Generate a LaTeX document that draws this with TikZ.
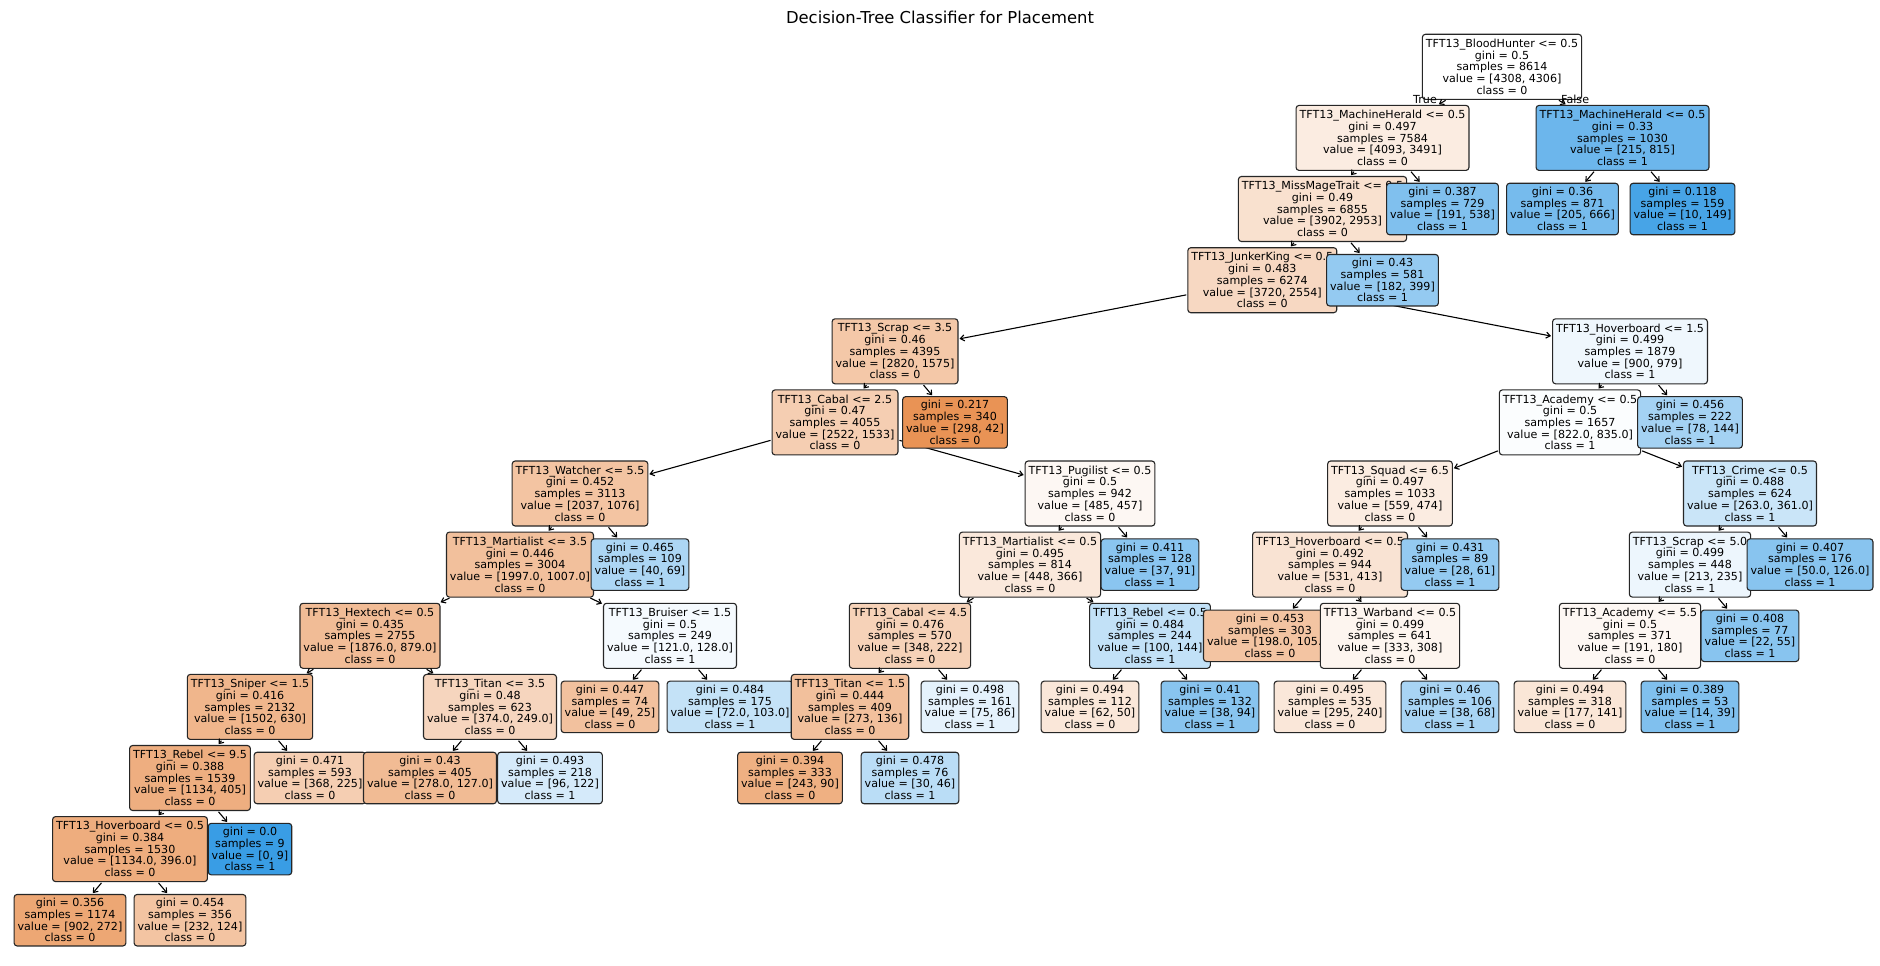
\documentclass[tikz,border=0pt]{standalone}
\usepackage{fontspec}
\setmainfont{DejaVu Sans}
\usetikzlibrary{arrows.meta}
\definecolor{corange}{RGB}{229,129,57}
\definecolor{cblue}{RGB}{57,157,229}
\tikzset{
  treebox/.style={draw=black!85, line width=1.1pt, rounded corners=3pt, align=center,
    inner xsep=3.5pt, inner ysep=0pt, font=\fontsize{11.1}{11.7}\selectfont},
  splitbox/.style={treebox, minimum height=65pt},
  leafbox/.style={treebox, minimum height=51.5pt},
  fo/.style={fill=corange!#1!white},
  fb/.style={fill=cblue!#1!white},
  treearrow/.style={-{Straight Barb[length=4pt,width=6pt]}, line width=1.1pt, shorten >=1pt, shorten <=1pt},
  edgelabel/.style={inner sep=0pt, font=\fontsize{11.1}{11.7}\selectfont},
}
\newcommand\treearc[2]{\draw[treearrow] (#1) -- (#2);}
\begin{document}
\begin{tikzpicture}[x=1pt,y=-1pt]
\path[fill=white] (0,0) rectangle (1880,966);
\useasboundingbox (0,0) rectangle (1880,966);

\node[anchor=base, inner sep=0pt, font=\fontsize{16.4}{18}\selectfont] (title) at (940,24) {Decision-Tree Classifier for Placement};

% preorder drawing: each arrow right after its child
\node[splitbox, fo=0] (n0) at (1502,66.8) {TFT13\_BloodHunter <= 0.5\\gini = 0.5\\samples = 8614\\value = [4308, 4306]\\class = 0};
\node[edgelabel, anchor=east] (ltrue) at (1437,99.5) {True};
\node[edgelabel, anchor=west] (lfalse) at (1561,99.5) {False};
\node[splitbox, fo=15] (n1) at (1382.5,137.9) {TFT13\_MachineHerald <= 0.5\\gini = 0.497\\samples = 7584\\value = [4093, 3491]\\class = 0};
\treearc{n0}{n1}
\node[splitbox, fo=24] (n3) at (1322.5,209.0) {TFT13\_MissMageTrait <= 0.5\\gini = 0.49\\samples = 6855\\value = [3902, 2953]\\class = 0};
\treearc{n1}{n3}
\node[splitbox, fo=31] (n7) at (1262.3,280.2) {TFT13\_JunkerKing <= 0.5\\gini = 0.483\\samples = 6274\\value = [3720, 2554]\\class = 0};
\treearc{n3}{n7}
\node[splitbox, fo=44] (n9) at (895,351.3) {TFT13\_Scrap <= 3.5\\gini = 0.46\\samples = 4395\\value = [2820, 1575]\\class = 0};
\treearc{n7}{n9}
\node[splitbox, fo=39] (n11) at (835,422.4) {TFT13\_Cabal <= 2.5\\gini = 0.47\\samples = 4055\\value = [2522, 1533]\\class = 0};
\treearc{n9}{n11}
\node[splitbox, fo=47] (n15) at (580,493.5) {TFT13\_Watcher <= 5.5\\gini = 0.452\\samples = 3113\\value = [2037, 1076]\\class = 0};
\treearc{n11}{n15}
\node[splitbox, fo=50] (n19) at (520,564.6) {TFT13\_Martialist <= 3.5\\gini = 0.446\\samples = 3004\\value = [1997.0, 1007.0]\\class = 0};
\treearc{n15}{n19}
\node[splitbox, fo=53] (n27) at (370,635.8) {TFT13\_Hextech <= 0.5\\gini = 0.435\\samples = 2755\\value = [1876.0, 879.0]\\class = 0};
\treearc{n19}{n27}
\node[splitbox, fo=58] (n35) at (250,706.9) {TFT13\_Sniper <= 1.5\\gini = 0.416\\samples = 2132\\value = [1502, 630]\\class = 0};
\treearc{n27}{n35}
\node[splitbox, fo=64] (n47) at (190,778.0) {TFT13\_Rebel <= 9.5\\gini = 0.388\\samples = 1539\\value = [1134, 405]\\class = 0};
\treearc{n35}{n47}
\node[splitbox, fo=65] (n53) at (130,849.1) {TFT13\_Hoverboard <= 0.5\\gini = 0.384\\samples = 1530\\value = [1134.0, 396.0]\\class = 0};
\treearc{n47}{n53}
\node[leafbox, fo=70] (n55) at (70,920.2) {gini = 0.356\\samples = 1174\\value = [902, 272]\\class = 0};
\treearc{n53}{n55}
\node[leafbox, fo=47] (n56) at (190,920.2) {gini = 0.454\\samples = 356\\value = [232, 124]\\class = 0};
\treearc{n53}{n56}
\node[leafbox, fb=100] (n54) at (250,849.1) {gini = 0.0\\samples = 9\\value = [0, 9]\\class = 1};
\treearc{n47}{n54}
\node[leafbox, fo=39] (n48) at (310,778.0) {gini = 0.471\\samples = 593\\value = [368, 225]\\class = 0};
\treearc{n35}{n48}
\node[splitbox, fo=33] (n36) at (490,706.9) {TFT13\_Titan <= 3.5\\gini = 0.48\\samples = 623\\value = [374.0, 249.0]\\class = 0};
\treearc{n27}{n36}
\node[leafbox, fo=54] (n49) at (430,778.0) {gini = 0.43\\samples = 405\\value = [278.0, 127.0]\\class = 0};
\treearc{n36}{n49}
\node[leafbox, fb=21] (n50) at (550,778.0) {gini = 0.493\\samples = 218\\value = [96, 122]\\class = 1};
\treearc{n36}{n50}
\node[splitbox, fb=5] (n28) at (670,635.8) {TFT13\_Bruiser <= 1.5\\gini = 0.5\\samples = 249\\value = [121.0, 128.0]\\class = 1};
\treearc{n19}{n28}
\node[leafbox, fo=49] (n37) at (610,706.9) {gini = 0.447\\samples = 74\\value = [49, 25]\\class = 0};
\treearc{n28}{n37}
\node[leafbox, fb=30] (n38) at (730,706.9) {gini = 0.484\\samples = 175\\value = [72.0, 103.0]\\class = 1};
\treearc{n28}{n38}
\node[leafbox, fb=42] (n20) at (640,564.6) {gini = 0.465\\samples = 109\\value = [40, 69]\\class = 1};
\treearc{n15}{n20}
\node[splitbox, fo=6] (n16) at (1090,493.5) {TFT13\_Pugilist <= 0.5\\gini = 0.5\\samples = 942\\value = [485, 457]\\class = 0};
\treearc{n11}{n16}
\node[splitbox, fo=18] (n21) at (1030,564.6) {TFT13\_Martialist <= 0.5\\gini = 0.495\\samples = 814\\value = [448, 366]\\class = 0};
\treearc{n16}{n21}
\node[splitbox, fo=36] (n29) at (910,635.8) {TFT13\_Cabal <= 4.5\\gini = 0.476\\samples = 570\\value = [348, 222]\\class = 0};
\treearc{n21}{n29}
\node[splitbox, fo=50] (n39) at (850,706.9) {TFT13\_Titan <= 1.5\\gini = 0.444\\samples = 409\\value = [273, 136]\\class = 0};
\treearc{n29}{n39}
\node[leafbox, fo=63] (n51) at (790,778.0) {gini = 0.394\\samples = 333\\value = [243, 90]\\class = 0};
\treearc{n39}{n51}
\node[leafbox, fb=35] (n52) at (910,778.0) {gini = 0.478\\samples = 76\\value = [30, 46]\\class = 1};
\treearc{n39}{n52}
\node[leafbox, fb=13] (n40) at (970,706.9) {gini = 0.498\\samples = 161\\value = [75, 86]\\class = 1};
\treearc{n29}{n40}
\node[splitbox, fb=31] (n30) at (1150,635.8) {TFT13\_Rebel <= 0.5\\gini = 0.484\\samples = 244\\value = [100, 144]\\class = 1};
\treearc{n21}{n30}
\node[leafbox, fo=19] (n41) at (1090,706.9) {gini = 0.494\\samples = 112\\value = [62, 50]\\class = 0};
\treearc{n30}{n41}
\node[leafbox, fb=60] (n42) at (1210,706.9) {gini = 0.41\\samples = 132\\value = [38, 94]\\class = 1};
\treearc{n30}{n42}
\node[leafbox, fb=59] (n22) at (1150,564.6) {gini = 0.411\\samples = 128\\value = [37, 91]\\class = 1};
\treearc{n16}{n22}
\node[leafbox, fo=86] (n12) at (955,422.4) {gini = 0.217\\samples = 340\\value = [298, 42]\\class = 0};
\treearc{n9}{n12}
\node[splitbox, fb=8] (n10) at (1630,351.3) {TFT13\_Hoverboard <= 1.5\\gini = 0.499\\samples = 1879\\value = [900, 979]\\class = 1};
\treearc{n7}{n10}
\node[splitbox, fb=2] (n13) at (1570,422.4) {TFT13\_Academy <= 0.5\\gini = 0.5\\samples = 1657\\value = [822.0, 835.0]\\class = 1};
\treearc{n10}{n13}
\node[splitbox, fo=15] (n17) at (1390,493.5) {TFT13\_Squad <= 6.5\\gini = 0.497\\samples = 1033\\value = [559, 474]\\class = 0};
\treearc{n13}{n17}
\node[splitbox, fo=22] (n23) at (1330,564.6) {TFT13\_Hoverboard <= 0.5\\gini = 0.492\\samples = 944\\value = [531, 413]\\class = 0};
\treearc{n17}{n23}
\node[leafbox, fo=47] (n31) at (1270,635.8) {gini = 0.453\\samples = 303\\value = [198.0, 105.0]\\class = 0};
\treearc{n23}{n31}
\node[splitbox, fo=8] (n32) at (1390,635.8) {TFT13\_Warband <= 0.5\\gini = 0.499\\samples = 641\\value = [333, 308]\\class = 0};
\treearc{n23}{n32}
\node[leafbox, fo=19] (n43) at (1330,706.9) {gini = 0.495\\samples = 535\\value = [295, 240]\\class = 0};
\treearc{n32}{n43}
\node[leafbox, fb=44] (n44) at (1450,706.9) {gini = 0.46\\samples = 106\\value = [38, 68]\\class = 1};
\treearc{n32}{n44}
\node[leafbox, fb=54] (n24) at (1450,564.6) {gini = 0.431\\samples = 89\\value = [28, 61]\\class = 1};
\treearc{n17}{n24}
\node[splitbox, fb=27] (n18) at (1750,493.5) {TFT13\_Crime <= 0.5\\gini = 0.488\\samples = 624\\value = [263.0, 361.0]\\class = 1};
\treearc{n13}{n18}
\node[splitbox, fb=9] (n25) at (1690,564.6) {TFT13\_Scrap <= 5.0\\gini = 0.499\\samples = 448\\value = [213, 235]\\class = 1};
\treearc{n18}{n25}
\node[splitbox, fo=6] (n33) at (1630,635.8) {TFT13\_Academy <= 5.5\\gini = 0.5\\samples = 371\\value = [191, 180]\\class = 0};
\treearc{n25}{n33}
\node[leafbox, fo=20] (n45) at (1570,706.9) {gini = 0.494\\samples = 318\\value = [177, 141]\\class = 0};
\treearc{n33}{n45}
\node[leafbox, fb=64] (n46) at (1690,706.9) {gini = 0.389\\samples = 53\\value = [14, 39]\\class = 1};
\treearc{n33}{n46}
\node[leafbox, fb=60] (n34) at (1750,635.8) {gini = 0.408\\samples = 77\\value = [22, 55]\\class = 1};
\treearc{n25}{n34}
\node[leafbox, fb=60] (n26) at (1810,564.6) {gini = 0.407\\samples = 176\\value = [50.0, 126.0]\\class = 1};
\treearc{n18}{n26}
\node[leafbox, fb=46] (n14) at (1690,422.4) {gini = 0.456\\samples = 222\\value = [78, 144]\\class = 1};
\treearc{n10}{n14}
\node[leafbox, fb=54] (n8) at (1382.5,280.2) {gini = 0.43\\samples = 581\\value = [182, 399]\\class = 1};
\treearc{n3}{n8}
\node[leafbox, fb=64] (n4) at (1442.5,209.0) {gini = 0.387\\samples = 729\\value = [191, 538]\\class = 1};
\treearc{n1}{n4}
\node[splitbox, fb=74] (n2) at (1622.5,137.9) {TFT13\_MachineHerald <= 0.5\\gini = 0.33\\samples = 1030\\value = [215, 815]\\class = 1};
\treearc{n0}{n2}
\node[leafbox, fb=69] (n5) at (1562.5,209.0) {gini = 0.36\\samples = 871\\value = [205, 666]\\class = 1};
\treearc{n2}{n5}
\node[leafbox, fb=93] (n6) at (1682.5,209.0) {gini = 0.118\\samples = 159\\value = [10, 149]\\class = 1};
\treearc{n2}{n6}
\end{tikzpicture}
\end{document}
